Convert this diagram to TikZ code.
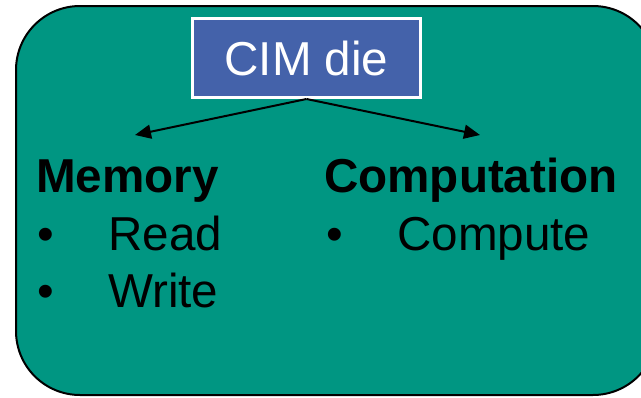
\documentclass[tikz,border=0pt]{standalone}
\usepackage{fontspec}
\setmainfont{Liberation Sans}
\usetikzlibrary{arrows.meta}
\definecolor{panelteal}{RGB}{0,150,130}
\definecolor{dieblue}{RGB}{68,98,170}
\tikzset{
  big/.style={font=\fontsize{47.6}{57}\selectfont},
  label/.style={big, inner sep=0pt, anchor=base west, text=black},
  head/.style={label, font=\fontsize{47.6}{57}\selectfont\bfseries},
  link/.style={line width=2pt, -{Triangle[length=16pt,width=14pt]}}
}
\begin{document}
\begin{tikzpicture}[x=1pt,y=-1pt]
  \useasboundingbox (0,0) rectangle (641,397);
  % outer panel
  \draw[line width=2pt, fill=panelteal, rounded corners=64pt] (16,6) rectangle (657,395);
  % die box
  \node[big, draw=white, line width=3pt, fill=dieblue, text=white,
        minimum width=228pt, minimum height=79pt, inner sep=0pt] (die) at (306.5,58) {CIM die};
  \coordinate (memtip) at (135,135);
  \coordinate (comptip) at (480,135);
  \draw[link] (die.south) -- (memtip);
  \draw[link] (die.south) -- (comptip);
  % memory column
  \node[head] (mem) at (36,192) {Memory};
  \node[label] (b1) at (37,250) {•};
  \node[label] (read) at (108,250) {Read};
  \node[label] (b2) at (37,307) {•};
  \node[label] (write) at (108,307) {Write};
  % computation column
  \node[head] (comp) at (324,192) {Computation};
  \node[label] (b3) at (326,250) {•};
  \node[label] (compute) at (397,250) {Compute};
\end{tikzpicture}
\end{document}
